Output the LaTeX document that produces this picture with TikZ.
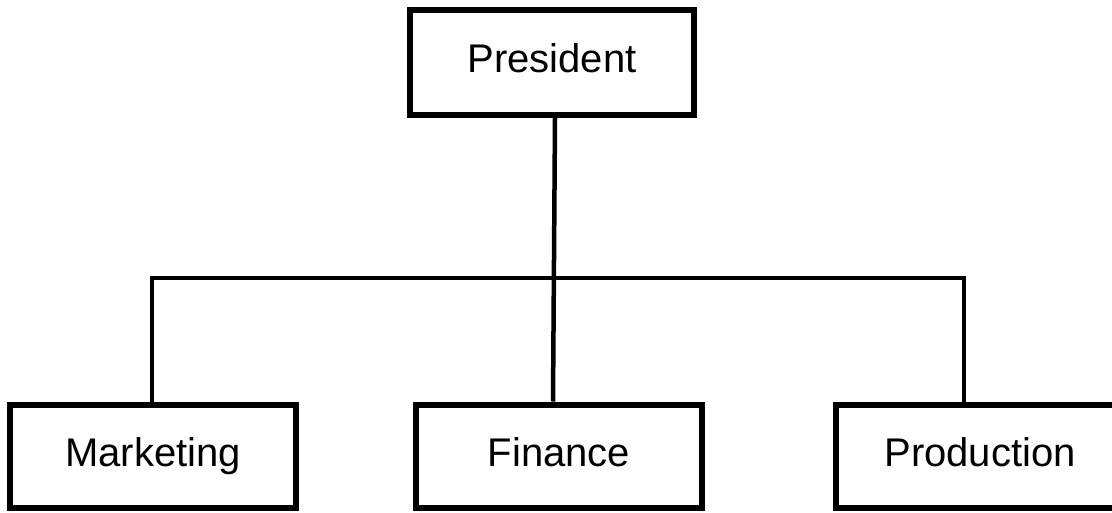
\documentclass[tikz,border=0pt]{standalone}
\usepackage{fontspec}
\setmainfont{Liberation Sans}
\begin{document}
\begin{tikzpicture}[x=1pt,y=-1pt,
  box/.style={draw=black,line width=6pt,fill=white,rectangle,inner sep=0pt,
    minimum width=286pt,minimum height=103pt,
    font=\fontsize{40}{48}\selectfont,text height=29pt,text depth=9pt},
  conn/.style={draw=black,line width=4.5pt}]
\clip (0,0) rectangle (1112,512);
\fill[white] (0,0) rectangle (1112,512);
\node[box,minimum width=284pt,minimum height=105pt] (pres) at (552,62.5) {President};
\node[box] (mkt) at (153,456) {Marketing};
\node[box] (fin) at (559,456) {Finance};
\node[box,minimum width=300pt] (prod) at (986,456) {\hspace*{-12pt}Production};
\coordinate (hl) at (152,278);
\coordinate (hr) at (964,278);
\draw[conn] ([xshift=3pt]pres.south) -- ([xshift=-6pt]fin.north);
\draw[conn] (hl |- mkt.north) -- (hl) -- (hr) -- (hr |- prod.north);
\end{tikzpicture}
\end{document}
